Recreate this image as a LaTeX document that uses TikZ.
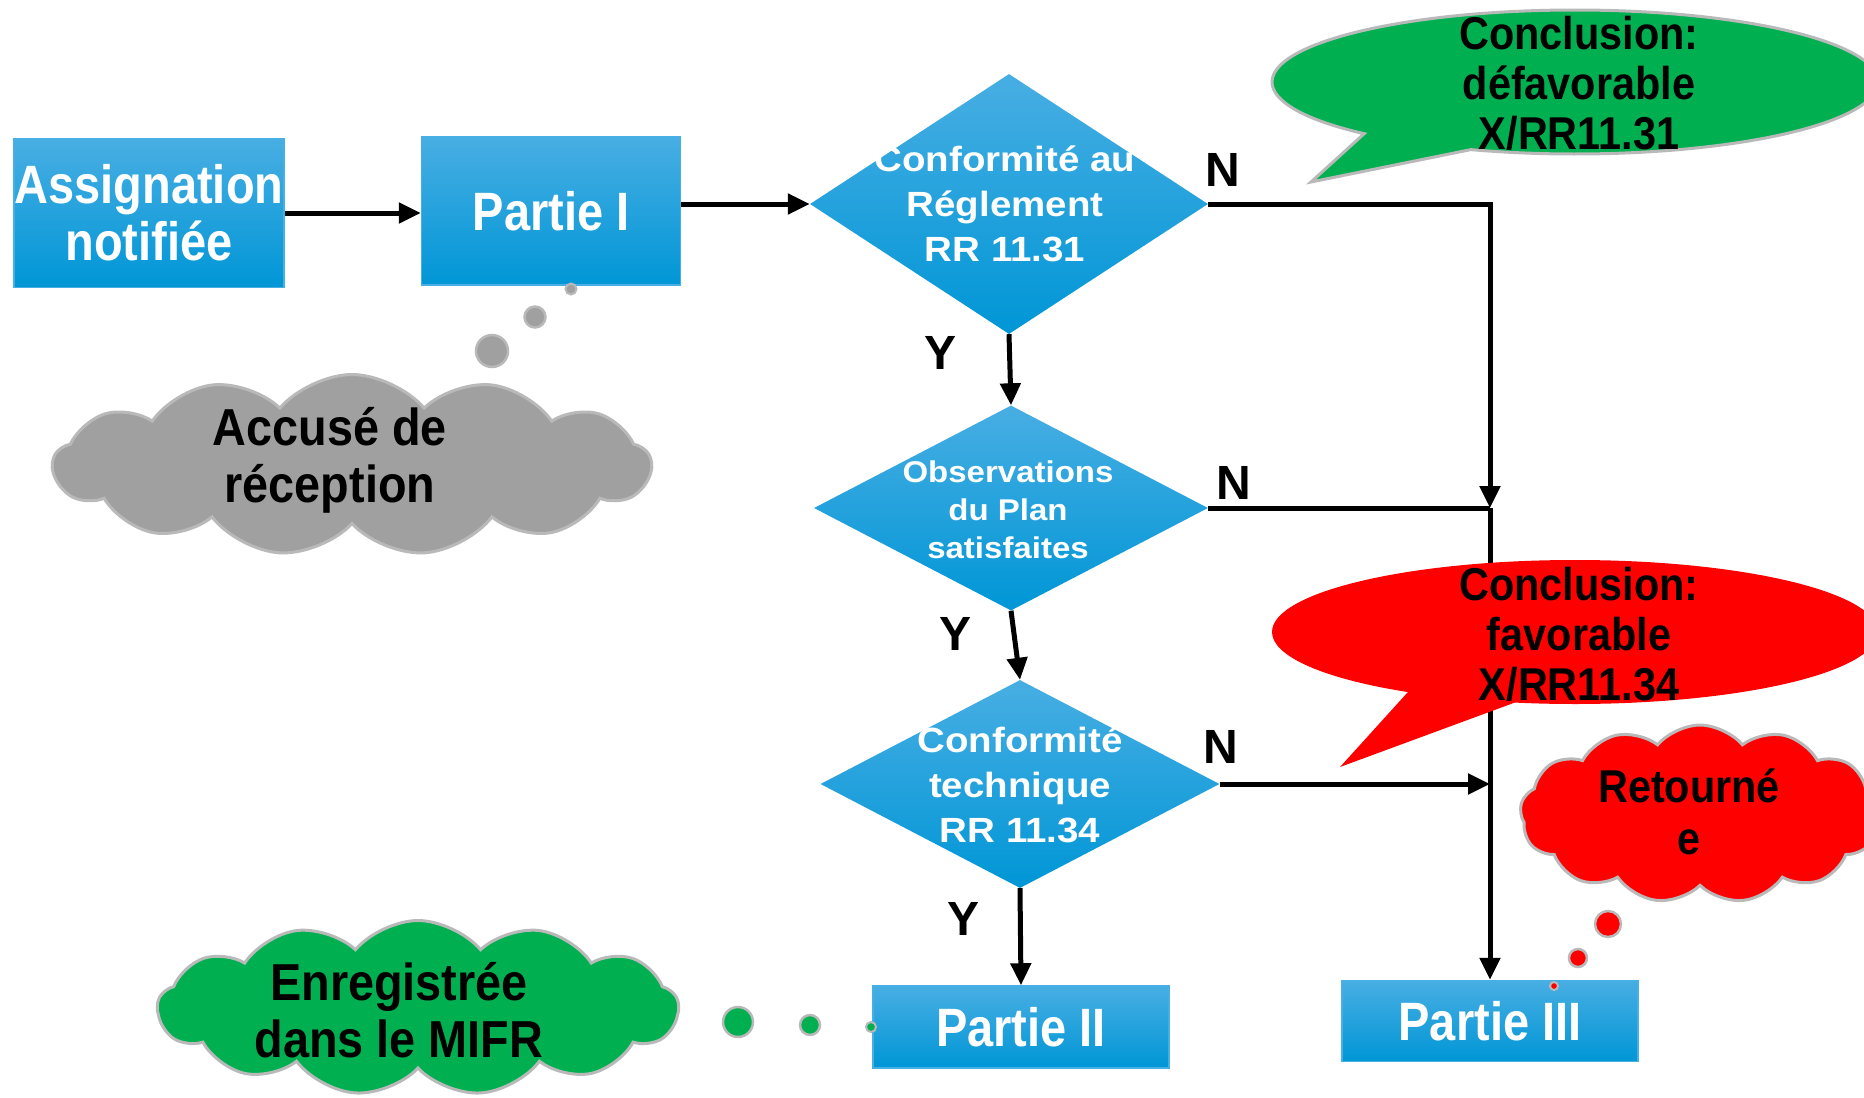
\documentclass[tikz,border=0pt]{standalone}
\usepackage{fontspec}
\setmainfont{Liberation Sans}
\newfontfamily\narrowbf[FakeStretch=0.87]{Liberation Sans}
\newfontfamily\widebf[FakeStretch=1.1]{Liberation Sans}
\newfontfamily\calloutbf[FakeStretch=0.9]{Liberation Sans}
\usetikzlibrary{shapes.geometric,shapes.symbols,shapes.callouts,arrows.meta}
\definecolor{bluetop}{RGB}{72,174,227}
\definecolor{bluebot}{RGB}{0,150,214}
\definecolor{boxedge}{RGB}{70,175,228}
\definecolor{offgreen}{RGB}{0,176,80}
\definecolor{cloudgray}{RGB}{160,160,160}
\definecolor{edgegray}{RGB}{185,185,185}
\tikzset{
  bluebox/.style={rectangle, draw=boxedge, line width=1.5pt, top color=bluetop, bottom color=bluebot,
    text=white, font=\narrowbf\bfseries\fontsize{54}{57}\selectfont, align=center, inner sep=0pt},
  decision/.style={diamond, top color=bluetop, bottom color=bluebot, draw=none, inner sep=0pt},
  dtext/.style={text=white, font=\widebf\bfseries\fontsize{35}{45}\selectfont, align=center, inner sep=0pt},
  dtextsmall/.style={text=white, font=\widebf\bfseries\fontsize{30}{38}\selectfont, align=center, inner sep=0pt},
  arr/.style={line width=5pt, -{Triangle[length=22pt,width=20pt]}},
  plainline/.style={line width=5pt},
  yn/.style={font=\bfseries\fontsize{48}{50}\selectfont, text=black, inner sep=0pt},
  cloudtext/.style={font=\calloutbf\bfseries\fontsize{52}{57}\selectfont, text=black, align=center, inner sep=0pt},
  calltext/.style={font=\calloutbf\bfseries\fontsize{46}{50}\selectfont, text=black, align=center, inner sep=0pt},
  puff/.style={cloud, cloud puffs=13, cloud puff arc=100, cloud ignores aspect, draw=edgegray, line width=3pt, inner sep=0pt},
  bubble/.style={circle, draw=edgegray, line width=2.5pt, inner sep=0pt},
  bubble callout/.style={ellipse callout, inner sep=0pt, line width=3pt},
}
\begin{document}
\begin{tikzpicture}[x=1pt,y=-1pt]
\useasboundingbox (0,0) rectangle (1864,1098);
\clip (0,0) rectangle (1864,1098);

% boxes
\node[bluebox, minimum width=270, minimum height=149] (a1) at (149,213) {Assignation\\notifiée};
\node[bluebox, minimum width=259, minimum height=148] (p1) at (551,211) {Partie I};
\node[bluebox, minimum width=296, minimum height=82] (p2) at (1021,1027) {Partie II};
\node[bluebox, minimum width=296, minimum height=81] (p3) at (1490,1021) {Partie III};

% decisions
\node[decision, minimum width=398, minimum height=260] (d1) at (1009,204) {};
\node[dtext] (d1t) at (1005,204) {Conformité au\\Réglement\\RR 11.31};
\node[decision, minimum width=394, minimum height=205] (d2) at (1011,508) {};
\node[dtextsmall] (d2t) at (1008,510) {Observations\\du Plan\\satisfaites};
\node[decision, minimum width=399, minimum height=208] (d3) at (1020,784) {};
\node[dtext] (d3t) at (1020,785) {Conformité\\technique\\RR 11.34};

% junction
\coordinate (j) at (1490,508);

% connectors
\draw[arr] (a1.east) -- (a1.east -| p1.west);
\draw[arr] (p1.east |- d1.west) -- (d1.west);
\draw[arr] (d1.south) -- (d2.north);
\draw[arr] (d2.south) -- (d3.north);
\draw[arr] (d3.south) -- (p2.north);
\draw[arr] (d1.east) -| (j);
\draw[plainline] (d2.east) -- (j);
\draw[arr] (j) -- (p3.north);
\draw[arr] (d3.east) -- (d3.east -| j);

% labels
\node[yn] (y1) at (940,353) {Y};
\node[yn] (y2) at (955,634) {Y};
\node[yn] (y3) at (963,919) {Y};
\node[yn] (n1) at (1223,170) {N};
\node[yn] (n2) at (1234,483) {N};
\node[yn] (n3) at (1221,747) {N};

% callouts
\node[bubble callout, fill=offgreen, draw=edgegray, minimum width=606, minimum height=144,
  callout absolute pointer={(1311,182)}, callout pointer arc=24] (cg) at (1575,82) {};
\node[calltext] (cgt) at (1579,83) {Conclusion:\\défavorable\\X/RR11.31};
\node[bubble callout, fill=red, draw=none, minimum width=606, minimum height=144,
  callout absolute pointer={(1340,767)}, callout pointer arc=22] (cr) at (1575,632) {};
\node[calltext] (crt) at (1579,634) {Conclusion:\\favorable\\X/RR11.34};

% gray cloud
\node[puff, fill=cloudgray, minimum width=598, minimum height=181] (c1) at (352,465) {};
\node[cloudtext] (c1t) at (330,460) {Accusé de\\réception};
\node[bubble, fill=cloudgray, minimum size=32] (b11) at (492,351) {};
\node[bubble, fill=cloudgray, minimum size=21] (b12) at (535,317) {};
\node[bubble, fill=cloudgray, minimum size=11, line width=2pt] (b13) at (571,289) {};

% green cloud
\node[puff, fill=offgreen, minimum width=521, minimum height=175] (c2) at (418,1008) {};
\node[cloudtext] (c2t) at (399,1010) {Enregistrée\\dans le MIFR};
\node[bubble, fill=offgreen, minimum size=30] (b21) at (738,1022) {};
\node[bubble, fill=offgreen, minimum size=20] (b22) at (810,1025) {};
\node[bubble, fill=offgreen, minimum size=10, line width=2pt] (b23) at (871,1027) {};

% red cloud
\node[puff, fill=red, minimum width=360, minimum height=178] (c3) at (1700,814) {};
\node[cloudtext, font=\calloutbf\bfseries\fontsize{46}{52}\selectfont] (c3t) at (1689,812) {Retourné\\e};
\node[bubble, fill=red, minimum size=26] (b31) at (1608,924) {};
\node[bubble, fill=red, minimum size=18] (b32) at (1578,958) {};
\node[bubble, fill=red, minimum size=8, line width=2pt] (b33) at (1554,986) {};
\end{tikzpicture}
\end{document}
